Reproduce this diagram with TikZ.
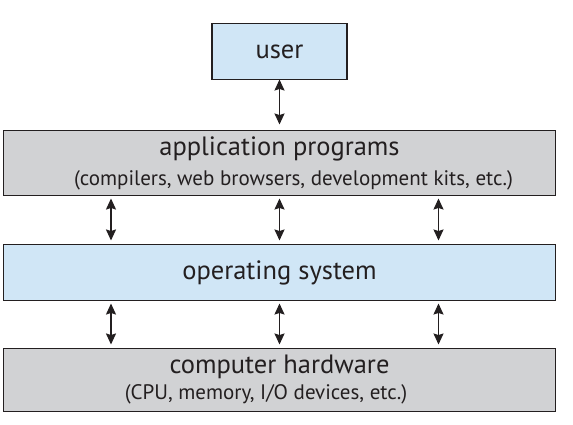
\documentclass[tikz,border=0pt]{standalone}
\usepackage{fontspec}
\setsansfont{PT Sans}
\usetikzlibrary{arrows.meta,positioning}
\definecolor{userblue}{RGB}{208,230,246}
\definecolor{layergray}{RGB}{209,210,212}
\definecolor{inkdark}{RGB}{35,31,32}
\newcommand{\subline}[1]{{\fontsize{21}{24}\selectfont #1}}

\begin{document}
\begin{tikzpicture}[
    x=1pt, y=1pt,
    node distance=49pt,
    layer/.style={rectangle, draw=inkdark, line width=1.4pt, text=inkdark, outer sep=0pt,
                  inner sep=0pt, align=center, font=\sffamily\fontsize{26.5}{30}\selectfont},
    bbox/.style={layer, fill=userblue},
    gbox/.style={layer, fill=layergray},
    flow/.style={{Stealth[length=11pt,width=10pt,inset=1.5pt]}-{Stealth[length=11pt,width=10pt,inset=1.5pt]},
                 line width=1.4pt, draw=inkdark, shorten >=4pt, shorten <=3pt}
]
\useasboundingbox (0,0) rectangle (573,-424);
\node[bbox, minimum width=135pt, minimum height=56pt] (user) at (279.5,-51.5) {user};
\node[gbox, minimum width=552pt, minimum height=65pt, below=51pt of user] (app)
    {application programs\\[0pt]\hspace*{28pt}\subline{(compilers, web browsers, development kits, etc.)}};
\node[bbox, minimum width=552pt, minimum height=56pt, below=of app] (os) {operating system};
\node[gbox, minimum width=552pt, minimum height=63pt, below=48pt of os] (hw)
    {computer hardware\\[-4pt]\subline{(CPU, memory, I/O devices, etc.)}\hspace*{27pt}};
\draw[flow, shorten <=0pt, shorten >=6pt] (user) -- (app);
\foreach \dx in {-168.5,0,159} {
  \draw[flow] ([xshift=\dx pt]app.south) -- ([xshift=\dx pt]os.north);
  \draw[flow] ([xshift=\dx pt]os.south) -- ([xshift=\dx pt]hw.north);
}
\end{tikzpicture}
\end{document}
